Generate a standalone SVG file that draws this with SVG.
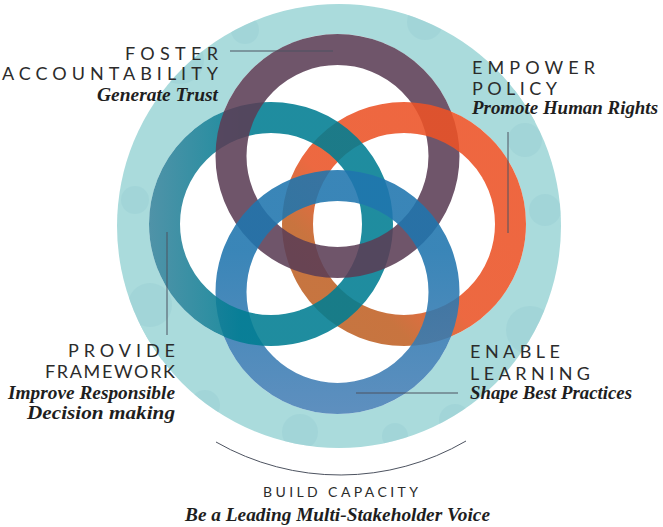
<svg xmlns="http://www.w3.org/2000/svg" xmlns:xlink="http://www.w3.org/1999/xlink" width="663" height="527" viewBox="0 0 663 527">
<style>
.cap{font-family:Lato,"Open Sans","Liberation Sans",sans-serif;font-weight:400;font-size:18px;fill:#2b2b2b}
.small{font-size:14px}
.it{font-family:"Liberation Serif","DejaVu Serif",serif;font-style:italic;font-weight:bold;font-size:18.5px;fill:#1e1e1e}
.ring{fill:none;stroke-width:31;opacity:0.88}
.conn{stroke:#4d5360;stroke-width:1;fill:none}
</style>
<defs>
<linearGradient id="gO" gradientUnits="userSpaceOnUse" x1="460" y1="170" x2="330" y2="300">
<stop offset="0" stop-color="#ec5226"/><stop offset="0.55" stop-color="#ea5427"/><stop offset="0.85" stop-color="#c16125"/><stop offset="1" stop-color="#bf6226"/>
</linearGradient>
<linearGradient id="gT" gradientUnits="userSpaceOnUse" x1="150" y1="0" x2="240" y2="0">
<stop offset="0" stop-color="#37849c"/><stop offset="1" stop-color="#007d92"/>
</linearGradient>
<linearGradient id="gB" gradientUnits="userSpaceOnUse" x1="0" y1="250" x2="0" y2="413">
<stop offset="0" stop-color="#1f75ae"/><stop offset="1" stop-color="#4880b6"/>
</linearGradient>
<clipPath id="cpBg"><circle cx="339" cy="226" r="222"/></clipPath>
<circle id="rO" class="ring" cx="404" cy="224" r="106.5" stroke="url(#gO)"/>
<circle id="rT" class="ring" cx="271" cy="224" r="106.5" stroke="url(#gT)"/>
<circle id="rP" class="ring" cx="337.5" cy="156" r="106.5" stroke="#5b3e55"/>
<circle id="rB" class="ring" cx="337.5" cy="292" r="106.5" stroke="url(#gB)"/>
<g id="base">
<circle cx="339" cy="226" r="222" fill="#aadbdc"/>
<g fill="#9acfd3" opacity="0.45" clip-path="url(#cpBg)">
<circle cx="180" cy="60" r="24"/><circle cx="425" cy="22" r="18"/><circle cx="525" cy="140" r="17"/>
<circle cx="150" cy="305" r="22"/><circle cx="530" cy="330" r="24"/><circle cx="300" cy="432" r="18"/>
<circle cx="455" cy="420" r="16"/><circle cx="245" cy="30" r="14"/><circle cx="135" cy="200" r="14"/>
<circle cx="395" cy="436" r="13"/><circle cx="545" cy="210" r="16"/><circle cx="205" cy="405" r="15"/>
</g>
<g fill="#ffffff">
<circle cx="404" cy="224" r="122"/><circle cx="271" cy="224" r="122"/>
<circle cx="337.5" cy="156" r="122"/><circle cx="337.5" cy="292" r="122"/>
</g>
</g>
<clipPath id="cp1"><rect x="410" y="90" width="125" height="88"/></clipPath>
<clipPath id="cp2"><rect x="140" y="275" width="160" height="85"/></clipPath>
</defs>

<g id="rings">
<use xlink:href="#base"/>
<use xlink:href="#rO"/>
<use xlink:href="#rT"/>
<use xlink:href="#rP"/>
<use xlink:href="#rB"/>
<g clip-path="url(#cp1)">
<use xlink:href="#base"/><use xlink:href="#rP"/><use xlink:href="#rO"/>
</g>
<g clip-path="url(#cp2)">
<use xlink:href="#base"/><use xlink:href="#rO"/><use xlink:href="#rB"/><use xlink:href="#rT"/>
</g>
</g>

<g id="connectors">
<line class="conn" x1="230" y1="51" x2="333" y2="51"/>
<line class="conn" x1="508" y1="132" x2="508" y2="233"/>
<line class="conn" x1="167" y1="232" x2="167" y2="335"/>
<line class="conn" x1="356" y1="393" x2="458" y2="393"/>
<path class="conn" d="M 216 442 A 250 250 0 0 0 466 441" stroke="#666"/>
</g>

<g id="foster">
<text class="cap" x="218" y="60" text-anchor="end" textLength="93" lengthAdjust="spacing">FOSTER</text>
<text class="cap" x="218" y="80" text-anchor="end" textLength="216" lengthAdjust="spacing">ACCOUNTABILITY</text>
<text class="it" x="218" y="101" text-anchor="end" textLength="121" lengthAdjust="spacingAndGlyphs">Generate Trust</text>
</g>
<g id="empower">
<text class="cap" x="472" y="74" textLength="123" lengthAdjust="spacing">EMPOWER</text>
<text class="cap" x="472" y="95" textLength="85" lengthAdjust="spacing">POLICY</text>
<text class="it" x="472" y="114" textLength="186" lengthAdjust="spacingAndGlyphs">Promote Human Rights</text>
</g>
<g id="provide">
<text class="cap" x="175" y="357" text-anchor="end" textLength="107" lengthAdjust="spacing">PROVIDE</text>
<text class="cap" x="175" y="378" text-anchor="end" textLength="130" lengthAdjust="spacing">FRAMEWORK</text>
<text class="it" x="175" y="399" text-anchor="end" textLength="167" lengthAdjust="spacingAndGlyphs">Improve Responsible</text>
<text class="it" x="175" y="419" text-anchor="end" textLength="148" lengthAdjust="spacingAndGlyphs">Decision making</text>
</g>
<g id="enable">
<text class="cap" x="470" y="358" textLength="90" lengthAdjust="spacing">ENABLE</text>
<text class="cap" x="470" y="380" textLength="120" lengthAdjust="spacing">LEARNING</text>
<text class="it" x="470" y="399" textLength="162" lengthAdjust="spacingAndGlyphs">Shape Best Practices</text>
</g>
<g id="build">
<text class="cap small" x="263" y="497" textLength="155" lengthAdjust="spacing">BUILD CAPACITY</text>
<text class="it" x="185" y="521" textLength="305" lengthAdjust="spacingAndGlyphs">Be a Leading Multi-Stakeholder Voice</text>
</g>
</svg>
